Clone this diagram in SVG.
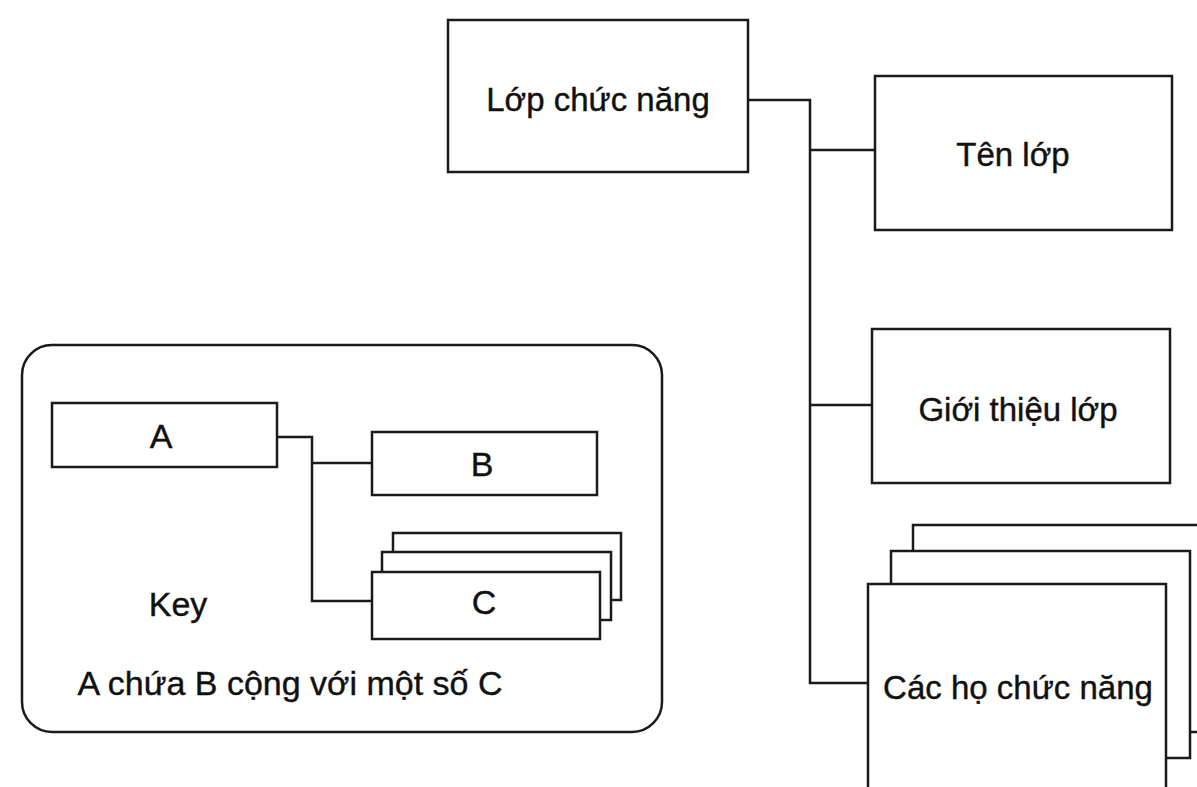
<svg xmlns="http://www.w3.org/2000/svg" width="1197" height="787" viewBox="0 0 1197 787">
<style>
.box{fill:#fff;stroke:#1a1a1a;stroke-width:2.5}
.ln{fill:none;stroke:#1a1a1a;stroke-width:2.5}
text{font-family:"Liberation Sans",Arial,sans-serif;fill:#111;text-anchor:middle;stroke:#111;stroke-width:0.4}
.big{font-size:33px}
.key{font-size:34px}
</style>
<rect width="1197" height="787" fill="#fff"/>
<g id="key-frame">
<rect class="box" x="22" y="345" width="640" height="387" rx="30"/>
<text class="key" x="178" y="616">Key</text>
<text class="key" x="290" y="695">A chứa B cộng với một số C</text>
</g>
<g id="connectors">
<polyline class="ln" points="748,100 810,100 810,683 868,683"/>
<line class="ln" x1="810" y1="150" x2="875" y2="150"/>
<line class="ln" x1="810" y1="405" x2="872" y2="405"/>
<polyline class="ln" points="277,437 312,437 312,601 372,601"/>
<line class="ln" x1="312" y1="463" x2="372" y2="463"/>
</g>
<g id="node-lop-chuc-nang">
<rect class="box" x="448" y="20" width="300" height="152"/>
<text class="big" x="598" y="111">Lớp chức năng</text>
</g>
<g id="node-ten-lop">
<rect class="box" x="875" y="76" width="297" height="154"/>
<text class="big" x="1013" y="166">Tên lớp</text>
</g>
<g id="node-gioi-thieu-lop">
<rect class="box" x="872" y="329" width="298" height="154"/>
<text class="big" x="1018" y="421">Giới thiệu lớp</text>
</g>
<g id="node-cac-ho-chuc-nang">
<rect class="box" x="913" y="525" width="300" height="207"/>
<rect class="box" x="891" y="551" width="299" height="207"/>
<rect class="box" x="868" y="584" width="298" height="215"/>
<text class="big" x="1018" y="699">Các họ chức năng</text>
</g>
<g id="key-a">
<rect class="box" x="52" y="403" width="225" height="64"/>
<text class="key" x="161" y="448">A</text>
</g>
<g id="key-b">
<rect class="box" x="372" y="432" width="225" height="63"/>
<text class="key" x="482" y="476">B</text>
</g>
<g id="key-c">
<rect class="box" x="393" y="533" width="228" height="67"/>
<rect class="box" x="382" y="552" width="229" height="68"/>
<rect class="box" x="372" y="572" width="228" height="67"/>
<text class="key" x="484" y="614">C</text>
</g>
</svg>
